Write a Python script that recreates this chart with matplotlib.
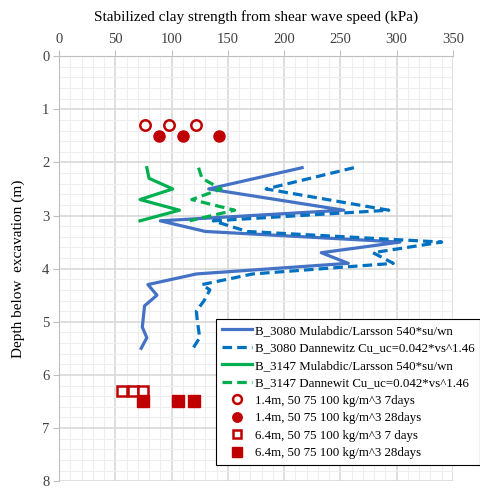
import matplotlib
matplotlib.use('Agg')
import matplotlib.pyplot as plt
from matplotlib.ticker import MultipleLocator

plt.rcParams['font.family'] = ['Liberation Serif', 'DejaVu Serif']

# B_3080 profiles (depth m, strength kPa)
b3080_depth = [2.1, 2.5, 2.9, 3.1, 3.3, 3.5, 3.7, 3.9, 4.1, 4.3, 4.5, 4.7, 4.9, 5.1, 5.3, 5.5]
b3080_mul = [216, 133, 253, 90, 130, 303, 233, 257, 122, 79, 87, 76, 75, 74, 78, 73]
b3080_dan_depth = [2.1, 2.5, 2.9, 3.1, 3.3, 3.5, 3.7, 3.9, 4.1, 4.3, 4.4, 4.6, 4.8, 5.0, 5.3, 5.5]
b3080_dan = [262, 184, 293, 137, 167, 340, 279, 297, 172, 127, 134, 129, 122, 123, 125, 119]

# B_3147 profiles
b3147_depth = [2.1, 2.3, 2.5, 2.7, 2.9, 3.1]
b3147_mul = [78, 80, 101, 72, 107, 72]
b3147_dan = [124, 127, 144, 118, 156, 116]

# lab tests
lab14_7d = [76, 98, 122]
lab14_28d = [89, 110, 142]
lab64_7d = [56, 66, 75]
lab64_28d = [75, 106, 120]

fig = plt.figure(figsize=(4.81, 4.88), dpi=100)
ax = fig.add_axes([0.1227, 0.014, 0.819, 0.871])

ax.plot(b3080_mul, b3080_depth, color='#4472C4', lw=2.3,
        label='B_3080 Mulabdic/Larsson 540*su/wn')
ax.plot(b3080_dan, b3080_dan_depth, color='#0070C0', lw=2.3, ls=(0, (3, 1.6)),
        label='B_3080 Dannewitz Cu_uc=0.042*vs^1.46')
ax.plot(b3147_mul, b3147_depth, color='#00B050', lw=2.3,
        label='B_3147 Mulabdic/Larsson 540*su/wn')
ax.plot(b3147_dan, b3147_depth, color='#00B050', lw=2.3, ls=(0, (3, 1.6)),
        label='B_3147 Dannewit Cu_uc=0.042*vs^1.46')

red = '#C00000'
ax.plot(lab14_7d, [1.3] * 3, 'o', ms=7.5, mfc='white', mec=red, mew=1.8, ls='none',
        label='1.4m, 50 75 100 kg/m^3 7days')
ax.plot(lab14_28d, [1.5] * 3, 'o', ms=8, color=red, ls='none',
        label='1.4m, 50 75 100 kg/m^3 28days')
ax.plot(lab64_7d, [6.3] * 3, 's', ms=7.5, mfc='white', mec=red, mew=1.8, ls='none',
        label='6.4m, 50 75 100 kg/m^3 7 days')
ax.plot(lab64_28d, [6.5] * 3, 's', ms=8, color=red, ls='none',
        label='6.4m, 50 75 100 kg/m^3 28days')

ax.set_xlim(0, 350)
ax.set_ylim(8, 0)
ax.xaxis.set_major_locator(MultipleLocator(50))
ax.xaxis.set_minor_locator(MultipleLocator(10))
ax.yaxis.set_major_locator(MultipleLocator(1))
ax.yaxis.set_minor_locator(MultipleLocator(0.2))
ax.xaxis.tick_top()
ax.xaxis.set_label_position('top')
ax.tick_params(which='major', length=4, color='#BFBFBF', labelsize=10.5, labelcolor='#404040', pad=3)
ax.tick_params(which='minor', length=0)
ax.grid(which='major', color='#D9D9D9', lw=1.2)
ax.grid(which='minor', color='#EEEEEE', lw=0.8)
ax.set_axisbelow(True)
for s in ['right', 'bottom']:
    ax.spines[s].set_visible(False)
for s in ['left', 'top']:
    ax.spines[s].set_color('#BFBFBF')

ax.set_xlabel('Stabilized clay strength from shear wave speed (kPa)', fontsize=11, labelpad=9)
ax.set_ylabel('Depth below  excavation (m)', fontsize=11, labelpad=12)

leg = ax.legend(loc='lower right', bbox_to_anchor=(480 / 481, 1 - 465 / 488),
                bbox_transform=fig.transFigure, fontsize=9.3, frameon=True,
                fancybox=False, framealpha=1, edgecolor='black', handlelength=2.3,
                handletextpad=0.2, labelspacing=0.42, borderpad=0.45, borderaxespad=0,
                markerscale=0.85)
leg.get_frame().set_linewidth(0.8)

fig.savefig('out.png', dpi=100)
